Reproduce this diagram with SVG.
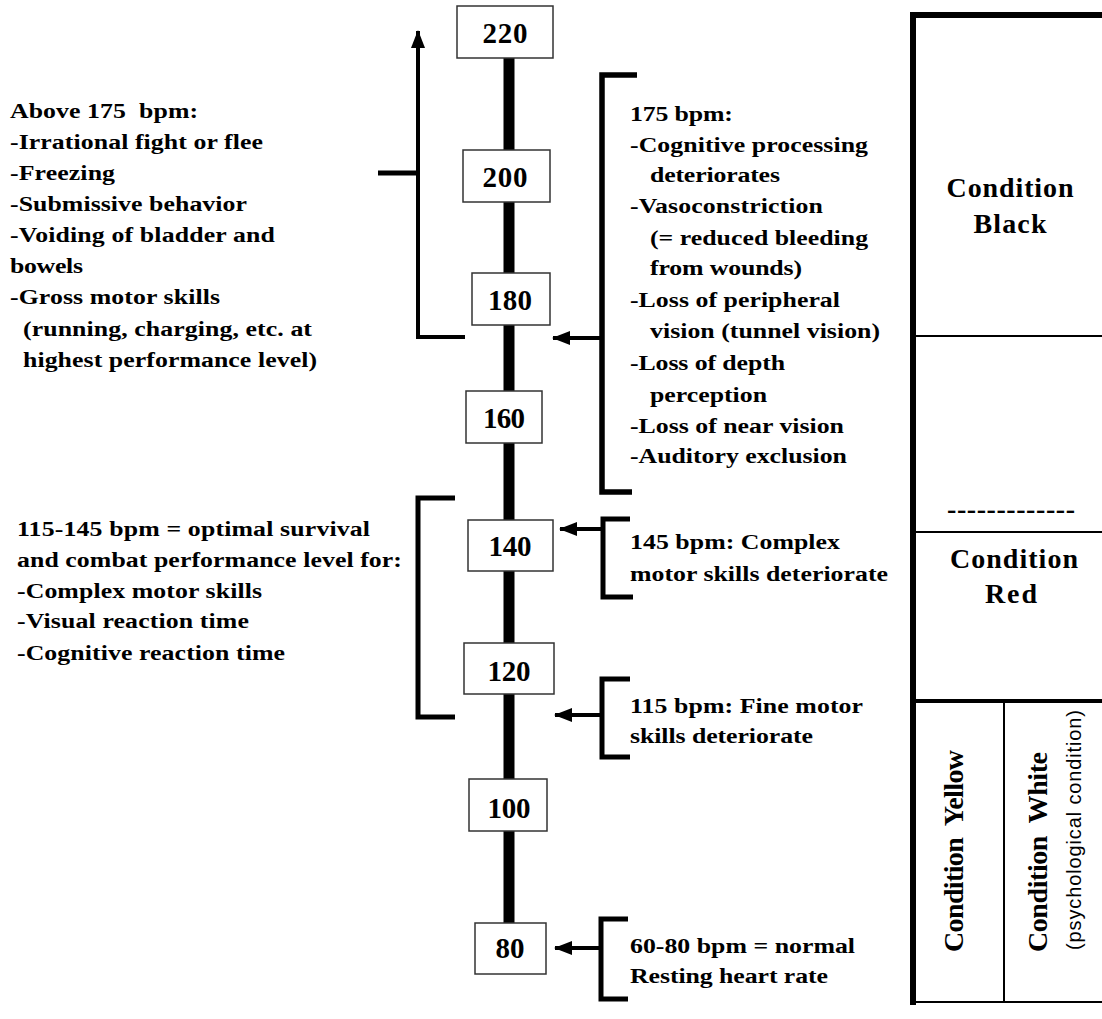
<svg xmlns="http://www.w3.org/2000/svg" width="1102" height="1019" viewBox="0 0 1102 1019">
<style>
.t{font-family:"Liberation Serif","Times New Roman",serif;font-weight:bold;font-size:21.5px;fill:#000;white-space:pre}
.n{font-family:"Liberation Serif","Times New Roman",serif;font-weight:bold;font-size:29px;fill:#000;text-anchor:middle}
.c{font-family:"Liberation Serif","Times New Roman",serif;font-weight:bold;font-size:28px;fill:#000;text-anchor:middle;white-space:pre}
.s{font-family:"Liberation Sans",Arial,sans-serif;font-size:20px;fill:#000;text-anchor:middle}
.box{fill:#fff;stroke:#333;stroke-width:1.5}
.br{fill:none;stroke:#000;stroke-width:5;stroke-linejoin:miter;stroke-linecap:butt}
.ar{fill:none;stroke:#000;stroke-width:4;marker-end:url(#ah)}
.tb{stroke:#000;fill:none}
</style>
<defs>
<marker id="ah" markerUnits="userSpaceOnUse" markerWidth="18" markerHeight="14" refX="17" refY="7" orient="auto">
<path d="M0,0 L18,7 L0,14 z" fill="#000"/>
</marker>
</defs>
<rect width="1102" height="1019" fill="#fff"/>

<g id="connectors">
<line x1="509" y1="58" x2="509" y2="923" stroke="#000" stroke-width="11"/>
<polyline class="ar" points="465,337 418,337 418,31"/>
<line class="br" x1="378" y1="173" x2="418" y2="173"/>
<polyline class="br" points="637,75 602,75 602,492 632,492" style="stroke-width:5.5"/>
<line class="ar" x1="602" y1="338" x2="553" y2="338"/>
<polyline class="br" points="455,498 418,498 418,717 455,717"/>
<polyline class="br" points="630,519 603,519 603,597 633,597"/>
<line class="ar" x1="603" y1="529" x2="560" y2="529"/>
<polyline class="br" points="630,679 602,679 602,757 630,757"/>
<line class="ar" x1="602" y1="715" x2="555" y2="715"/>
<polyline class="br" points="628,919 601,919 601,999 628,999"/>
<line class="ar" x1="601" y1="948" x2="555" y2="948"/>
</g>

<g id="n220"><rect class="box" x="457" y="6" width="96" height="52"/><text class="n" x="505" y="43" textLength="45">220</text></g>
<g id="n200"><rect class="box" x="463" y="150" width="87" height="52"/><text class="n" x="505" y="187" textLength="45">200</text></g>
<g id="n180"><rect class="box" x="472" y="273" width="78" height="52"/><text class="n" x="510" y="310" textLength="44">180</text></g>
<g id="n160"><rect class="box" x="466" y="391" width="76" height="52"/><text class="n" x="504" y="428" textLength="42">160</text></g>
<g id="n140"><rect class="box" x="468" y="520" width="85" height="51"/><text class="n" x="510" y="556" textLength="43">140</text></g>
<g id="n120"><rect class="box" x="464" y="643" width="90" height="51"/><text class="n" x="509" y="681" textLength="43">120</text></g>
<g id="n100"><rect class="box" x="469" y="779" width="78" height="52"/><text class="n" x="509" y="818" textLength="43">100</text></g>
<g id="n80"><rect class="box" x="475" y="923" width="71" height="51"/><text class="n" x="510" y="958" textLength="29">80</text></g>

<g id="above175">
<text class="t" transform="translate(10,118) scale(1.2,1)" textLength="156.7">Above 175  bpm:</text>
<text class="t" transform="translate(10,149) scale(1.2,1)" textLength="210.8">-Irrational fight or flee</text>
<text class="t" transform="translate(10,180) scale(1.2,1)" textLength="87.5">-Freezing</text>
<text class="t" transform="translate(10,211) scale(1.2,1)" textLength="197.5">-Submissive behavior</text>
<text class="t" transform="translate(10,242) scale(1.2,1)" textLength="220.8">-Voiding of bladder and</text>
<text class="t" transform="translate(10,273) scale(1.2,1)" textLength="60.8">bowels</text>
<text class="t" transform="translate(10,304) scale(1.2,1)" textLength="175">-Gross motor skills</text>
<text class="t" transform="translate(23,336) scale(1.2,1)" textLength="240.8">(running, charging, etc. at</text>
<text class="t" transform="translate(23,367) scale(1.2,1)" textLength="245">highest performance level)</text>
</g>

<g id="optimal">
<text class="t" transform="translate(17,536) scale(1.2,1)" textLength="294.2">115-145 bpm = optimal survival</text>
<text class="t" transform="translate(17,567) scale(1.2,1)" textLength="320.8">and combat performance level for:</text>
<text class="t" transform="translate(17,598) scale(1.2,1)" textLength="204.2">-Complex motor skills</text>
<text class="t" transform="translate(17,628) scale(1.2,1)" textLength="193.3">-Visual reaction time</text>
<text class="t" transform="translate(17,660) scale(1.2,1)" textLength="223.3">-Cognitive reaction time</text>
</g>

<g id="bpm175">
<text class="t" transform="translate(630,121) scale(1.2,1)" textLength="85.8">175 bpm:</text>
<text class="t" transform="translate(630,152) scale(1.2,1)" textLength="198.3">-Cognitive processing</text>
<text class="t" transform="translate(650,182) scale(1.2,1)" textLength="108.3">deteriorates</text>
<text class="t" transform="translate(630,213) scale(1.2,1)" textLength="160.8">-Vasoconstriction</text>
<text class="t" transform="translate(650,245) scale(1.2,1)" textLength="181.7">(= reduced bleeding</text>
<text class="t" transform="translate(650,275) scale(1.2,1)" textLength="126.7">from wounds)</text>
<text class="t" transform="translate(630,307) scale(1.2,1)" textLength="175">-Loss of peripheral</text>
<text class="t" transform="translate(650,338) scale(1.2,1)" textLength="191.7">vision (tunnel vision)</text>
<text class="t" transform="translate(630,370) scale(1.2,1)" textLength="129.2">-Loss of depth</text>
<text class="t" transform="translate(650,402) scale(1.2,1)" textLength="97.5">perception</text>
<text class="t" transform="translate(630,433) scale(1.2,1)" textLength="178.3">-Loss of near vision</text>
<text class="t" transform="translate(630,463) scale(1.2,1)" textLength="180.8">-Auditory exclusion</text>
</g>

<g id="bpm145">
<text class="t" transform="translate(630,549) scale(1.2,1)" textLength="175">145 bpm: Complex</text>
<text class="t" transform="translate(630,581) scale(1.2,1)" textLength="215">motor skills deteriorate</text>
</g>
<g id="bpm115">
<text class="t" transform="translate(630,713) scale(1.2,1)" textLength="194.2">115 bpm: Fine motor</text>
<text class="t" transform="translate(630,743) scale(1.2,1)" textLength="152.5">skills deteriorate</text>
</g>
<g id="bpm80">
<text class="t" transform="translate(630,953) scale(1.2,1)" textLength="187.5">60-80 bpm = normal</text>
<text class="t" transform="translate(630,983) scale(1.2,1)" textLength="165">Resting heart rate</text>
</g>

<g id="conditions">
<line class="tb" x1="913" y1="12" x2="913" y2="1005" stroke-width="6"/>
<line class="tb" x1="910" y1="15" x2="1102" y2="15" stroke-width="6"/>
<line class="tb" x1="916" y1="336" x2="1102" y2="336" stroke-width="2"/>
<line class="tb" x1="916" y1="532" x2="1102" y2="532" stroke-width="2"/>
<line class="tb" x1="916" y1="701" x2="1102" y2="701" stroke-width="4"/>
<line class="tb" x1="1004" y1="703" x2="1004" y2="1002" stroke-width="2"/>
<line class="tb" x1="913" y1="1002" x2="1102" y2="1002" stroke-width="2"/>
</g>
<g id="black">
<text class="c" x="1010" y="197" textLength="127">Condition</text>
<text class="c" x="1010" y="233" textLength="73">Black</text>
</g>
<g id="red">
<text class="c" x="1011" y="518" textLength="128">-------------</text>
<text class="c" x="1014" y="568" textLength="128">Condition</text>
<text class="c" x="1011" y="603" textLength="52">Red</text>
</g>
<g id="yellow">
<text class="c" transform="translate(963,851) rotate(-90)" x="0" y="0" textLength="202">Condition  Yellow</text>
</g>
<g id="white">
<text class="c" transform="translate(1047,852) rotate(-90)" x="0" y="0" textLength="200">Condition  White</text>
<text class="s" transform="translate(1081,830) rotate(-90)" x="0" y="0" textLength="240">(psychological condition)</text>
</g>
</svg>
